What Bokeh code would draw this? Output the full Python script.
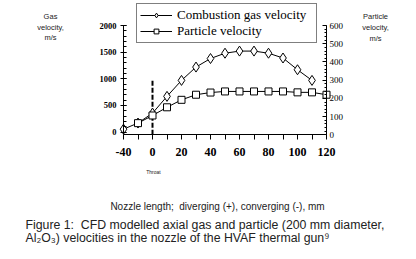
from bokeh.plotting import figure
from bokeh.models import (Range1d, LinearAxis, FixedTicker, Legend, LegendItem, Label)
from bokeh.embed import file_html
from bokeh.resources import INLINE

# ---- data ----
gas_x = [-20, -10, 0, 10, 20, 30, 40, 50, 60, 70, 80, 90, 100, 110]
gas_v = [55, 170, 355, 670, 970, 1220, 1380, 1480, 1520, 1520, 1480, 1390, 1170, 970]
part_x = [-10, 0, 10, 20, 30, 40, 50, 60, 70, 80, 90, 100, 110, 120]
part_v = [64, 106, 151, 192, 220, 232, 238, 238, 238, 238, 238, 233, 233, 220]
throat_x = [0]
throat_lo = [-50]
throat_hi = [1000]
x_ticks = [-20, -10, 0, 10, 20, 30, 40, 50, 60, 70, 80, 90, 100, 110, 120]
x_tick_labels = {-20: "-40", -10: "", 0: "0", 10: "", 20: "20", 30: "", 40: "40", 50: "",
                 60: "60", 70: "", 80: "80", 90: "", 100: "100", 110: "", 120: "120"}
left_ticks = [0, 500, 1000, 1500, 2000]
right_ticks = [0, 100, 200, 300, 400, 500, 600]
legend_labels = ["Combustion gas velocity", "Particle velocity"]
left_title = ["Gas", "velocity,", "m/s"]
right_title = ["Particle", "velocity,", "m/s"]
throat_text = "Throat"
x_title = "Nozzle length;\u00a0 diverging (+), converging (-), mm"
caption = ["Figure 1:\u00a0 CFD modelled axial gas and particle (200 mm diameter,",
           "Al\u2082O\u2083) velocities in the nozzle of the HVAF thermal gun\u2079"]

# ---- layout: frame covers the whole canvas, axes at fixed locations ----
W, H = 416, 259
X_LO, X_HI = -20, 120          # axis extent (data)
AX_L, AX_R = 123, 326          # pixel positions of the left / right axes
Y0_PX, Y2000_PX = 131.6, 25    # left axis: 0 and 2000
R0_PX, R600_PX = 134.3, 25     # right axis: 0 and 600
XAX_PX = 134.3                 # pixel row of the x axis

xs = (AX_R - AX_L) / (X_HI - X_LO)
x_range = Range1d(X_LO - AX_L / xs, X_HI + (W - AX_R) / xs)
ls = (Y0_PX - Y2000_PX) / 2000
y_range = Range1d(-(H - Y0_PX) / ls, 2000 + Y2000_PX / ls)
rs = (R0_PX - R600_PX) / 600
r_range = Range1d(-(H - R0_PX) / rs, 600 + R600_PX / rs)
x_axis_at = -(XAX_PX - Y0_PX) / ls

p = figure(width=W, height=H, output_backend="svg", toolbar_location=None,
           x_range=x_range, y_range=y_range, x_axis_type=None, y_axis_type=None,
           min_border=0)
p.extra_y_ranges = {"right": r_range}
p.outline_line_color = None
p.background_fill_color = "white"
p.border_fill_color = "white"

SERIF = "Liberation Serif"
SANS = "Liberation Sans"

# bottom axis
xa = LinearAxis(ticker=FixedTicker(ticks=x_ticks), fixed_location=x_axis_at,
                bounds=(X_LO, X_HI))
xa.major_label_overrides = x_tick_labels
xa.major_label_text_font = SERIF
xa.major_label_text_font_style = "bold"
xa.major_label_text_font_size = "12px"
xa.major_label_text_color = "black"
xa.major_tick_in = 0
xa.major_tick_out = 5
xa.minor_tick_out = 0
xa.minor_tick_in = 0
xa.major_label_standoff = 8
xa.axis_line_color = "black"
p.add_layout(xa, "below")

# left axis
ya = LinearAxis(fixed_location=X_LO, bounds=(x_axis_at, 2000),
                ticker=FixedTicker(ticks=left_ticks,
                                   minor_ticks=[v for v in range(0, 2001, 100)]))
ya.major_label_text_font = SERIF
ya.major_label_text_font_style = "bold"
ya.major_label_text_font_size = "8.5px"
ya.major_label_text_color = "black"
ya.major_tick_in = 3
ya.major_tick_out = 3
ya.minor_tick_in = 3
ya.minor_tick_out = 0
ya.major_label_standoff = 4
ya.axis_line_color = "black"
p.add_layout(ya, "left")

# right axis
ra = LinearAxis(y_range_name="right", fixed_location=X_HI, bounds=(0, 600),
                ticker=FixedTicker(ticks=right_ticks,
                                   minor_ticks=[v for v in range(0, 601, 20)]))
ra.major_label_text_font = SERIF
ra.major_label_text_font_size = "9px"
ra.major_label_text_color = "black"
ra.major_tick_in = 4
ra.major_tick_out = 0
ra.minor_tick_in = 2
ra.minor_tick_out = 0
ra.major_label_standoff = 3
ra.axis_line_color = "black"
p.add_layout(ra, "right")

# throat dashed line
p.segment(x0=throat_x, y0=throat_lo, x1=throat_x, y1=throat_hi,
          line_color="black", line_width=2, line_dash="5 2")

# series
g_line = p.line(gas_x, gas_v, line_color="black", line_width=1)
g_mark = p.scatter(gas_x, gas_v, marker="diamond", size=10, fill_color="white",
                   line_color="black", line_width=1)
p_line = p.line(part_x, part_v, y_range_name="right", line_color="black", line_width=1)
p_mark = p.scatter(part_x, part_v, y_range_name="right", marker="square", size=7,
                   fill_color="white", line_color="black", line_width=1)

legend = Legend(items=[LegendItem(label=legend_labels[0], renderers=[g_line, g_mark]),
                       LegendItem(label=legend_labels[1], renderers=[p_line, p_mark])],
                location=(136, H - 43.3), padding=3, spacing=-4, margin=0,
                glyph_width=32, glyph_height=12, label_height=12, label_width=136,
                label_standoff=5, label_text_font=SERIF, label_text_font_size="13px",
                label_text_line_height=0.9,
                label_text_color="black", border_line_color="black", border_line_width=1,
                background_fill_color="white", background_fill_alpha=1.0)
p.add_layout(legend, "center")

def lab(x, y, t, size, font=SANS, align="center", color="#222222", baseline="middle"):
    p.add_layout(Label(x=x, y=H - y, x_units="screen", y_units="screen", text=t,
                       text_font=font, text_font_size=size, text_align=align,
                       text_baseline=baseline, text_color=color))

for yy, t in zip([16, 27, 37], left_title):
    lab(50, yy, t, "7.5px")
for yy, t in zip([16, 27, 37.5], right_title):
    lab(375, yy, t, "7.5px")
lab(153, 171, throat_text, "5px")
lab(217, 205.5, x_title, "10px", baseline="alphabetic")
lab(25, 224, caption[0], "12.3px", align="left", baseline="alphabetic")
lab(25, 237.3, caption[1], "12.3px", align="left", baseline="alphabetic")

open("out.html", "w").write(file_html(p, INLINE))
